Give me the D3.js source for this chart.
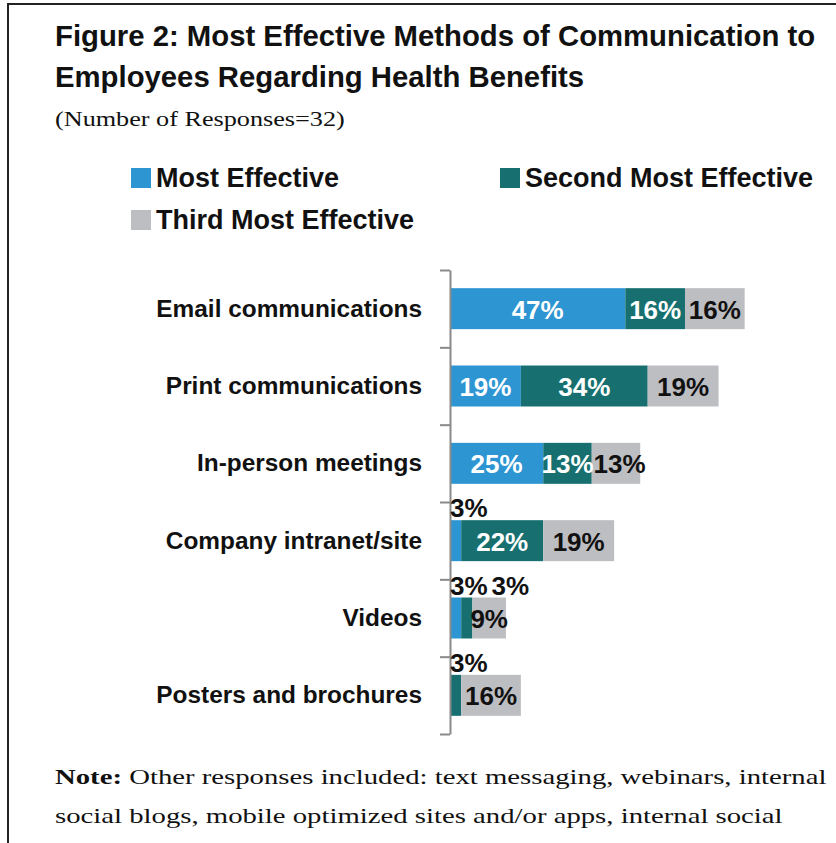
<!DOCTYPE html>
<html>
<head>
<meta charset="utf-8">
<script src="https://cdn.jsdelivr.net/npm/d3@7"></script>
<style>
  body { margin: 0; background: #fff; }
  svg { display: block; }
</style>
</head>
<body>
<svg id="chart" width="836" height="843"></svg>
<script>
// ---- data ----
const categories = [
  "Email communications",
  "Print communications",
  "In-person meetings",
  "Company intranet/site",
  "Videos",
  "Posters and brochures"
];
const seriesNames = ["Most Effective", "Second Most Effective", "Third Most Effective"];
const mostEffective       = [47, 19, 25, 3, 3, 0];
const secondMostEffective = [16, 34, 13, 22, 3, 3];
const thirdMostEffective  = [16, 19, 13, 19, 9, 16];

const titleLines = [
  "Figure 2: Most Effective Methods of Communication to",
  "Employees Regarding Health Benefits"
];
const subtitle = "(Number of Responses=32)";
const noteLabel = "Note:";
const noteLines = [
  " Other responses included: text messaging, webinars, internal",
  "social blogs, mobile optimized sites and/or apps, internal social"
];

// ---- styling ----
const colors = ["#2e95d3", "#17706f", "#bdbec2"];
const sans = "'Liberation Sans', Arial, Helvetica, sans-serif";
const serif = "'Liberation Serif', 'Times New Roman', serif";
const ink = "#111";

const svg = d3.select("#chart");

// frame
svg.append("line").attr("x1", 7).attr("x2", 836).attr("y1", 4).attr("y2", 4)
  .attr("stroke", "#222").attr("stroke-width", 2);
svg.append("line").attr("x1", 8).attr("x2", 8).attr("y1", 3).attr("y2", 843)
  .attr("stroke", "#222").attr("stroke-width", 2);

// title
svg.append("g").selectAll("text").data(titleLines).join("text")
  .attr("x", 55).attr("y", (d, i) => 46 + i * 41)
  .attr("font-family", sans).attr("font-weight", "bold").attr("font-size", 29.3)
  .attr("fill", ink).text(d => d);

// stretch a serif text horizontally to a target width
function fitWidth(sel, x, y, target) {
  const w = sel.node().getComputedTextLength();
  const s = target / w;
  sel.attr("transform", `translate(${x},${y}) scale(${s},1)`);
  return s;
}

const sub = svg.append("text")
  .attr("font-family", serif).attr("font-size", 20).attr("fill", ink).text(subtitle);
fitWidth(sub, 55, 126, 290);

// legend
const legendPos = [[131, 168], [500, 168], [131, 210]];
const legend = svg.append("g").selectAll("g").data(seriesNames).join("g")
  .attr("transform", (d, i) => `translate(${legendPos[i][0]},${legendPos[i][1]})`);
legend.append("rect").attr("width", 20).attr("height", 20)
  .attr("fill", (d, i) => colors[i]);
legend.append("text").attr("x", 25).attr("y", 19)
  .attr("font-family", sans).attr("font-weight", "bold").attr("font-size", 27)
  .attr("fill", ink).text(d => d);

// ---- chart ----
const rows = categories.map((c, i) => ({
  category: c,
  most: mostEffective[i],
  second: secondMostEffective[i],
  third: thirdMostEffective[i]
}));
const keys = ["most", "second", "third"];
const stacked = d3.stack().keys(keys)(rows);

const x0 = 450;
const x = d3.scaleLinear().domain([0, 100]).range([x0, x0 + 373]);
const yTop = 270, yBottom = 734;
const y = d3.scaleBand().domain(categories).range([yTop, yBottom])
  .paddingInner(0.47).paddingOuter(0.235);

// bars
const layers = svg.append("g").selectAll("g").data(stacked).join("g")
  .attr("fill", (d, i) => colors[i]);
layers.selectAll("rect").data(d => d).join("rect")
  .attr("x", d => x(d[0]))
  .attr("y", d => y(d.data.category))
  .attr("width", d => x(d[1]) - x(d[0]))
  .attr("height", y.bandwidth());

// category axis with ticks on category boundaries
const yEdges = d3.scaleLinear().domain([0, categories.length]).range([yTop, yBottom]);
const axis = svg.append("g").attr("transform", `translate(${x0},0)`)
  .call(d3.axisLeft(yEdges).tickValues(d3.range(categories.length + 1))
    .tickFormat("").tickSize(10).tickSizeOuter(0));
axis.selectAll("path, line").attr("stroke", "#8a8a8a").attr("stroke-width", 2);

svg.append("g").selectAll("text").data(categories).join("text")
  .attr("x", 422).attr("y", d => y(d) + y.bandwidth() / 2 + 8)
  .attr("text-anchor", "end")
  .attr("font-family", sans).attr("font-weight", "bold").attr("font-size", 24.4)
  .attr("fill", ink).text(d => d);

// value labels: inside the segment when it is wide enough, otherwise above the bar;
// labels on the same bar are nudged right so they do not run into each other
const labelFont = 26;
const labelG = svg.append("g")
  .attr("font-family", sans).attr("font-weight", "bold").attr("font-size", labelFont);
const insideCursor = {};
const aboveCursor = {};
stacked.forEach((layer, li) => {
  layer.forEach(d => {
    const v = d[1] - d[0];
    if (v <= 0) return;
    const cat = d.data.category;
    const txt = v + "%";
    if (v >= 5) {
      const t = labelG.append("text")
        .attr("y", y(cat) + y.bandwidth() / 2 + 10)
        .attr("fill", li < 2 ? "#fff" : ink)
        .text(txt);
      const w = t.node().getComputedTextLength();
      const start = Math.max((x(d[0]) + x(d[1])) / 2 - w / 2,
        insideCursor[cat] != null ? insideCursor[cat] : -Infinity);
      t.attr("x", start);
      insideCursor[cat] = start + w;
    } else {
      const start = Math.max(x(d[0]), aboveCursor[cat] != null ? aboveCursor[cat] + 4 : -Infinity);
      const t = labelG.append("text")
        .attr("x", start).attr("y", y(cat) - 3)
        .attr("fill", ink).text(txt);
      aboveCursor[cat] = start + t.node().getComputedTextLength();
    }
  });
});

// note below the chart
const noteG = svg.append("g");
const l2 = noteG.append("text")
  .attr("font-family", serif).attr("font-size", 21).attr("fill", ink).text(noteLines[1]);
const s = fitWidth(l2, 55, 823, 728);
const l1 = noteG.append("text")
  .attr("font-family", serif).attr("font-size", 21).attr("fill", ink)
  .attr("transform", `translate(55,784) scale(${s},1)`);
l1.append("tspan").attr("font-weight", "bold").text(noteLabel);
l1.append("tspan").text(noteLines[0]);
</script>
</body>
</html>
